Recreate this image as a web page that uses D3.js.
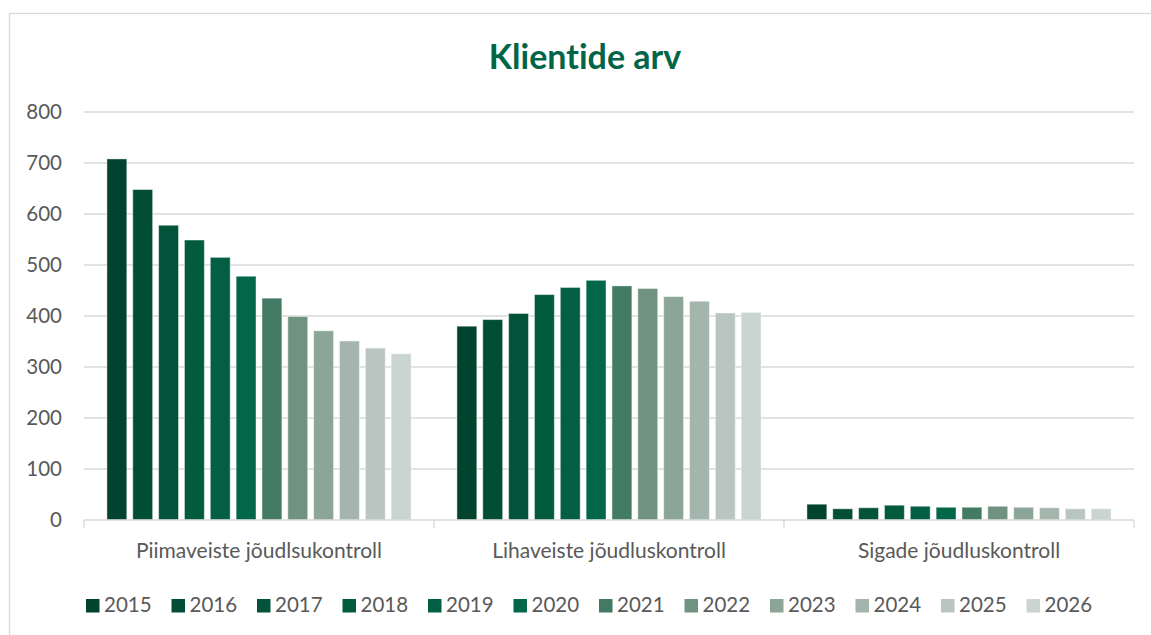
<!DOCTYPE html>
<html>
<head>
    <meta charset="utf-8">
    <title>Klientide arv</title>
    <script src="https://d3js.org/d3.v7.min.js"></script>
    <style>
        body { margin: 0; background: #fff; }
        text { font-family: Lato, "Open Sans", sans-serif; font-variant-ligatures: none; }
    </style>
</head>
<body>
    <div id="chart"></div>
    <script>
        // data
        const categories = ["Piimaveiste jõudlsukontroll", "Lihaveiste jõudluskontroll", "Sigade jõudluskontroll"];
        const years = ["2015", "2016", "2017", "2018", "2019", "2020", "2021", "2022", "2023", "2024", "2025", "2026"];
        const piimaveised = [708, 648, 578, 549, 515, 478, 435, 399, 371, 351, 337, 326];
        const lihaveised = [380, 393, 405, 442, 456, 470, 459, 454, 438, 429, 406, 407];
        const sead = [31, 22, 24, 29, 27, 25, 25, 27, 25, 24, 22, 22];
        const yTicks = [0, 100, 200, 300, 400, 500, 600, 700, 800];
        const colors = ["#02432F", "#024D35", "#02533A", "#025A3F", "#025F44", "#026649",
                        "#427A64", "#709281", "#8BA598", "#A3B5AD", "#B8C5C0", "#CAD4D0"];

        const seriesByCat = [piimaveised, lihaveised, sead];

        const W = 1151, H = 635;
        const margin = { top: 112, right: 17, bottom: 115, left: 84 };
        const width = 1134 - margin.left, height = 520 - margin.top;

        const svg = d3.select("#chart")
            .append("svg")
            .attr("width", W)
            .attr("height", H);

        // chart border
        svg.append("rect")
            .attr("x", 9.5).attr("y", 13.5)
            .attr("width", 1160).attr("height", 700)
            .attr("fill", "none")
            .attr("stroke", "#d9d9d9")
            .attr("stroke-width", 1.3);

        //Title
        svg.append("text")
            .attr("x", 585).attr("y", 69)
            .attr("text-anchor", "middle")
            .style("font-size", "34px")
            .style("font-weight", "bold")
            .style("fill", "#036548")
            .text("Klientide arv");

        const g = svg.append("g")
            .attr("transform", `translate(${margin.left},${margin.top})`);

        const x0 = d3.scaleBand()
            .domain(categories)
            .range([0, width])
            .paddingInner(0.131)
            .paddingOuter(0.0655);

        const x1 = d3.scaleBand()
            .domain(years)
            .range([0, x0.bandwidth()])
            .paddingInner(0.23)
            .paddingOuter(0);

        const y = d3.scaleLinear()
            .domain([0, 800])
            .range([height, 0]);

        const color = d3.scaleOrdinal().domain(years).range(colors);

        // gridlines
        g.append("g")
            .selectAll("line")
            .data(yTicks.filter(d => d > 0))
            .enter().append("line")
            .attr("x1", 0).attr("x2", width)
            .attr("y1", d => y(d)).attr("y2", d => y(d))
            .attr("stroke", "#d9d9d9")
            .attr("stroke-width", 1.3);

        // y tick labels
        const yAxis = g.append("g")
            .call(d3.axisLeft(y).tickValues(yTicks).tickSize(0).tickPadding(22));
        yAxis.select(".domain").remove();
        yAxis.selectAll("text")
            .style("font-size", "20.5px")
            .style("font-family", "Lato, sans-serif")
            .attr("fill", "#595959");

        // bars
        const groups = g.append("g")
            .selectAll("g")
            .data(categories)
            .enter().append("g")
            .attr("transform", d => `translate(${x0(d)},0)`);

        groups.selectAll("rect")
            .data((d, i) => years.map((yr, j) => ({ year: yr, value: seriesByCat[i][j] })))
            .enter().append("rect")
            .attr("x", d => x1(d.year))
            .attr("y", d => y(d.value))
            .attr("width", x1.bandwidth())
            .attr("height", d => height - y(d.value))
            .attr("fill", d => color(d.year))
            .attr("stroke", "rgba(255,255,255,0.45)")
            .attr("stroke-width", 1);

        // x axis
        const xAxis = g.append("g")
            .attr("transform", `translate(0,${height})`);
        xAxis.append("line")
            .attr("x1", 0).attr("x2", width)
            .attr("stroke", "#d9d9d9").attr("stroke-width", 1.3);
        xAxis.selectAll(".sep")
            .data(d3.range(categories.length + 1))
            .enter().append("line")
            .attr("x1", i => i * width / categories.length)
            .attr("x2", i => i * width / categories.length)
            .attr("y1", 0).attr("y2", 8)
            .attr("stroke", "#d9d9d9").attr("stroke-width", 1.3);
        xAxis.selectAll(".cat")
            .data(categories)
            .enter().append("text")
            .attr("x", d => x0(d) + x0.bandwidth() / 2)
            .attr("y", 38)
            .attr("text-anchor", "middle")
            .style("font-size", "21px")
            .style("fill", "#595959")
            .text(d => d);

        //Legend
        const legend = svg.append("g")
            .selectAll("g")
            .data(years)
            .enter().append("g")
            .attr("transform", (d, i) => `translate(${86 + i * 85.5},0)`);
        legend.append("rect")
            .attr("x", 0).attr("y", 599)
            .attr("width", 13.5).attr("height", 13.5)
            .attr("fill", d => color(d));
        legend.append("text")
            .attr("x", 18).attr("y", 612)
            .style("font-size", "20.5px")
            .style("fill", "#595959")
            .text(d => d);
    </script>
</body>
</html>
